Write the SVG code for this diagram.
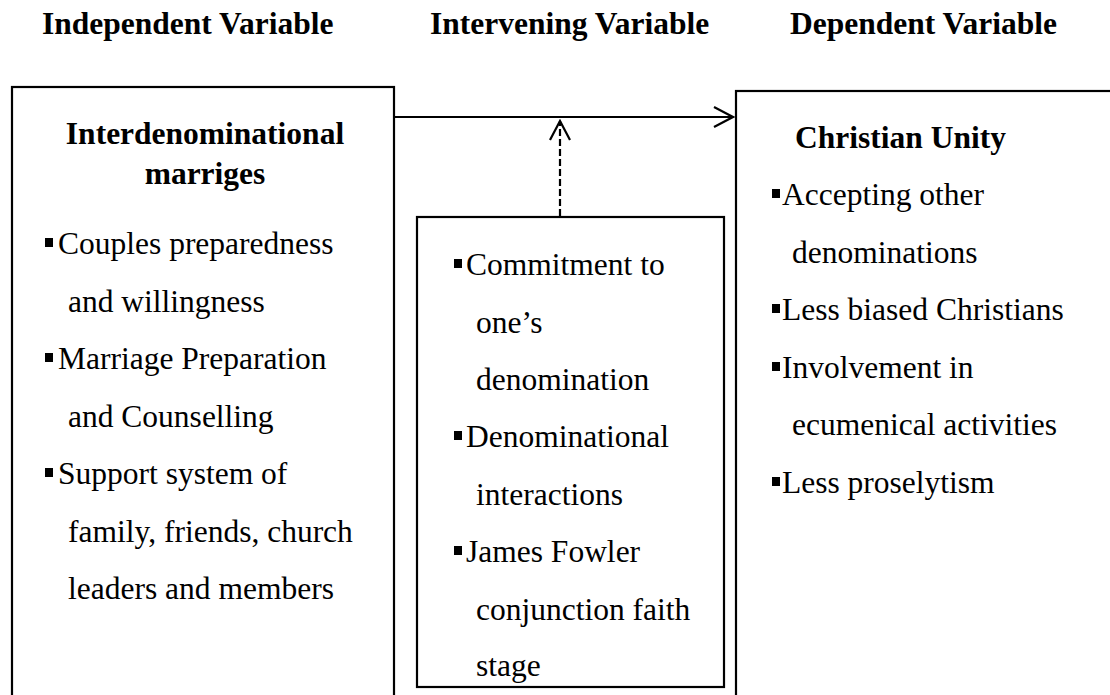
<svg xmlns="http://www.w3.org/2000/svg" width="1110" height="695" viewBox="0 0 1110 695">
<defs>
<style>
.t{font-family:"Liberation Serif","Times New Roman",serif;font-weight:bold;font-size:31.5px;fill:#000}
.h{font-family:"Liberation Serif","Times New Roman",serif;font-weight:bold;font-size:31.5px;fill:#000}
.b{font-family:"Liberation Serif","Times New Roman",serif;font-size:31.5px;fill:#000}
.box{fill:#fff;stroke:#000;stroke-width:2.2}
.bul{fill:#000}
.conn{fill:none;stroke:#000;stroke-width:2.2}
</style>
<marker id="open" viewBox="0 0 22 22" refX="20" refY="11" markerWidth="22" markerHeight="22" markerUnits="userSpaceOnUse" orient="auto">
<path d="M1,1 L20,11 L1,21" fill="none" stroke="#000" stroke-width="2.2"/>
</marker>
</defs>
<rect width="1110" height="695" fill="#fff"/>
<g id="titles">
<text class="t" x="42" y="34">Independent Variable</text>
<text class="t" x="430" y="34">Intervening Variable</text>
<text class="t" x="790" y="34">Dependent Variable</text>
</g>
<g id="independent">
<rect class="box" x="12" y="87" width="382" height="620"/>
<text class="h" x="205" y="144" text-anchor="middle">Interdenominational</text>
<text class="h" x="205" y="184" text-anchor="middle">marriges</text>
<rect class="bul" x="45" y="238" width="8" height="9"/>
<text class="b" x="58" y="254">Couples preparedness</text>
<text class="b" x="68" y="311.5">and willingness</text>
<rect class="bul" x="45" y="353" width="8" height="9"/>
<text class="b" x="58" y="369">Marriage Preparation</text>
<text class="b" x="68" y="426.5">and Counselling</text>
<rect class="bul" x="45" y="468" width="8" height="9"/>
<text class="b" x="58" y="484">Support system of</text>
<text class="b" x="68" y="541.5">family, friends, church</text>
<text class="b" x="68" y="599">leaders and members</text>
</g>
<g id="intervening">
<rect class="box" x="417" y="217" width="307" height="470"/>
<rect class="bul" x="454" y="259" width="8" height="9"/>
<text class="b" x="466" y="275">Commitment to</text>
<text class="b" x="476" y="332.5">one’s</text>
<text class="b" x="476" y="390">denomination</text>
<rect class="bul" x="454" y="431" width="8" height="9"/>
<text class="b" x="466" y="447">Denominational</text>
<text class="b" x="476" y="504.5">interactions</text>
<rect class="bul" x="454" y="546" width="8" height="9"/>
<text class="b" x="466" y="562">James Fowler</text>
<text class="b" x="476" y="619.5">conjunction faith</text>
<text class="b" x="476" y="676">stage</text>
</g>
<g id="dependent">
<rect class="box" x="736" y="91" width="390" height="620"/>
<text class="h" x="795" y="148">Christian Unity</text>
<rect class="bul" x="772" y="189" width="8" height="9"/>
<text class="b" x="782" y="205">Accepting other</text>
<text class="b" x="792" y="263">denominations</text>
<rect class="bul" x="772" y="304" width="8" height="9"/>
<text class="b" x="782" y="320">Less biased Christians</text>
<rect class="bul" x="772" y="362" width="8" height="9"/>
<text class="b" x="782" y="378">Involvement in</text>
<text class="b" x="792" y="435">ecumenical activities</text>
<rect class="bul" x="772" y="477" width="8" height="9"/>
<text class="b" x="782" y="493">Less proselytism</text>
</g>
<g id="connectors">
<line class="conn" x1="394" y1="117" x2="733" y2="117" marker-end="url(#open)"/>
<line class="conn" x1="560" y1="216" x2="560" y2="121" stroke-dasharray="7,3" marker-end="url(#open)"/>
</g>
</svg>
